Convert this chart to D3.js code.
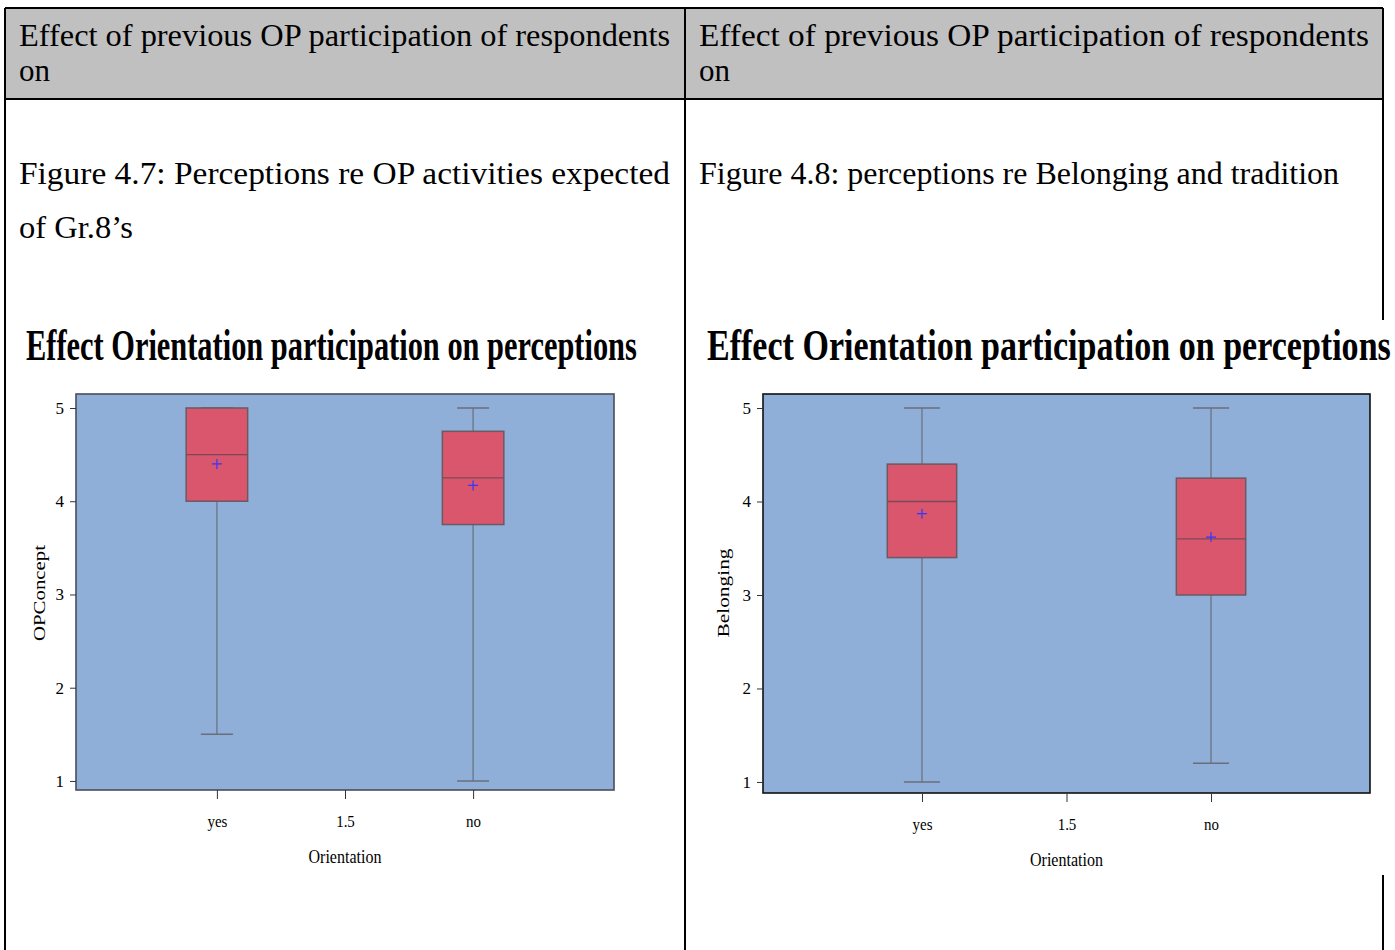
<!DOCTYPE html>
<html>
<head>
<meta charset="utf-8">
<script src="https://cdn.jsdelivr.net/npm/d3@7/dist/d3.min.js"></script>
<style>
  html, body { margin: 0; padding: 0; background: #fff; }
  svg { display: block; }
  text { font-family: "Liberation Serif", "Times New Roman", serif; fill: #000; }
</style>
</head>
<body>
<svg id="page" width="1395" height="950"></svg>
<script>
// Groups and box-plot statistics (min, Q1, median, Q3, max, mean)
const groups = ["yes", "no"];
const xTickValues = [1, 1.5, 2];
const xTickLabels = ["yes", "1.5", "no"];
const yTickValues = [1, 2, 3, 4, 5];

const opMin    = [1.5, 1.0];
const opQ1     = [4.0, 3.75];
const opMedian = [4.5, 4.25];
const opQ3     = [5.0, 4.75];
const opMax    = [5.0, 5.0];
const opMean   = [4.4, 4.17];

const belMin    = [1.0, 1.2];
const belQ1     = [3.4, 3.0];
const belMedian = [4.0, 3.6];
const belQ3     = [4.4, 4.25];
const belMax    = [5.0, 5.0];
const belMean   = [3.87, 3.62];

const headerText = "Effect of previous OP participation of respondents";
const headerText2 = "on";
const caption1a = "Figure 4.7: Perceptions re OP activities expected";
const caption1b = "of Gr.8\u2019s";
const caption2 = "Figure 4.8: perceptions re Belonging and tradition";
const chartTitle = "Effect Orientation participation on perceptions";

const svg = d3.select("#page");

// ---- document table ----
svg.append("rect").attr("x", 5).attr("y", 8).attr("width", 1378).attr("height", 91).attr("fill", "#c0c0c0");

// body text set in a narrow serif: each line is fitted to its measured width
function line(x, y, str, width) {
  return svg.append("text").attr("x", x).attr("y", y).attr("font-size", 31)
    .attr("textLength", width).attr("lengthAdjust", "spacingAndGlyphs").text(str);
}
line(19, 46, headerText, 651);
line(19, 81, headerText2, 31);
line(699, 46, headerText, 670);
line(699, 81, headerText2, 31);
line(19, 184, caption1a, 651);
line(19, 238, caption1b, 114);
line(699, 184, caption2, 640);

const lines = [
  [5, 8, 1383, 8], [5, 99, 1383, 99],
  [5, 8, 5, 950], [685, 8, 685, 950], [1383, 8, 1383, 950]
];
svg.selectAll("line.tbl").data(lines).join("line").attr("class", "tbl")
  .attr("x1", d => d[0]).attr("y1", d => d[1]).attr("x2", d => d[2]).attr("y2", d => d[3])
  .attr("stroke", "#000").attr("stroke-width", 2);

// condensed text: horizontally squeezed to a given width
function condensed(parent, x, y, str, size, width, weight) {
  const t = parent.append("text").attr("font-size", size).attr("font-weight", weight || "normal").text(str);
  const w = t.node().getComputedTextLength();
  t.attr("transform", `translate(${x},${y}) scale(${width / w},1)`);
  return t;
}

// ---- box-plot panels ----
function boxPanel(cfg) {
  // white backdrop of the chart
  svg.append("rect").attr("x", cfg.bgX).attr("y", 320).attr("width", cfg.bgW).attr("height", 555).attr("fill", "#fff");

  const x = d3.scaleLinear().domain([0.45, 2.55]).range([cfg.left, cfg.right]);
  const y = d3.scaleLinear().domain(cfg.yDomain).range([cfg.bottom, cfg.top]);
  const unit = x(2) - x(1);

  condensed(svg, cfg.titleX, 360, chartTitle, 44, cfg.titleW, "bold");

  svg.append("rect").attr("x", cfg.left).attr("y", cfg.top)
    .attr("width", cfg.right - cfg.left).attr("height", cfg.bottom - cfg.top)
    .attr("fill", "#8fafd8");

  const s = cfg.stats;
  const data = groups.map((g, i) => ({
    pos: i + 1, min: s.min[i], q1: s.q1[i], med: s.med[i], q3: s.q3[i], max: s.max[i], mean: s.mean[i]
  }));
  const g = svg.append("g");
  const bw = 0.24 * unit, cw = 0.125 * unit;
  const wc = "#6a6e7c";

  g.selectAll("line.wh").data(data).join("line").attr("class", "wh")
    .attr("x1", d => x(d.pos)).attr("x2", d => x(d.pos))
    .attr("y1", d => y(d.min)).attr("y2", d => y(d.max))
    .attr("stroke", wc).attr("stroke-width", 1.2);
  g.selectAll("line.capLo").data(data).join("line").attr("class", "capLo")
    .attr("x1", d => x(d.pos) - cw / 2).attr("x2", d => x(d.pos) + cw / 2)
    .attr("y1", d => y(d.min)).attr("y2", d => y(d.min))
    .attr("stroke", wc).attr("stroke-width", 1.5);
  g.selectAll("line.capHi").data(data).join("line").attr("class", "capHi")
    .attr("x1", d => x(d.pos) - cw / 2).attr("x2", d => x(d.pos) + cw / 2)
    .attr("y1", d => y(d.max)).attr("y2", d => y(d.max))
    .attr("stroke", wc).attr("stroke-width", 1.5);
  g.selectAll("rect.box").data(data).join("rect").attr("class", "box")
    .attr("x", d => x(d.pos) - bw / 2).attr("width", bw)
    .attr("y", d => y(d.q3)).attr("height", d => y(d.q1) - y(d.q3))
    .attr("fill", "#d9566d").attr("stroke", "#6a5a64").attr("stroke-width", 1.5);
  g.selectAll("line.med").data(data).join("line").attr("class", "med")
    .attr("x1", d => x(d.pos) - bw / 2).attr("x2", d => x(d.pos) + bw / 2)
    .attr("y1", d => y(d.med)).attr("y2", d => y(d.med))
    .attr("stroke", "#7a4a58").attr("stroke-width", 1.3);
  g.selectAll("path.mean").data(data).join("path").attr("class", "mean")
    .attr("d", d => `M${x(d.pos) - 5},${y(d.mean)}h10M${x(d.pos)},${y(d.mean) - 5}v10`)
    .attr("stroke", "#3535ff").attr("stroke-width", 1.2).attr("fill", "none");

  // frame
  svg.append("rect").attr("x", cfg.left).attr("y", cfg.top)
    .attr("width", cfg.right - cfg.left).attr("height", cfg.bottom - cfg.top)
    .attr("fill", "none").attr("stroke", cfg.frame).attr("stroke-width", 1.6);

  // axes
  const yAxis = svg.append("g").attr("transform", `translate(${cfg.left},0)`)
    .call(d3.axisLeft(y).tickValues(yTickValues).tickFormat(d3.format("d")).tickSize(6).tickPadding(6));
  yAxis.select(".domain").remove();
  yAxis.selectAll("text").attr("font-family", "Liberation Serif").attr("font-size", 17).attr("fill", "#222");
  yAxis.selectAll("line").attr("stroke", "#333");

  const xAxis = svg.append("g").attr("transform", `translate(0,${cfg.bottom})`)
    .call(d3.axisBottom(x).tickValues(xTickValues).tickFormat((d, i) => xTickLabels[i]).tickSize(9).tickPadding(16));
  xAxis.select(".domain").remove();
  xAxis.selectAll("text").attr("font-family", "Liberation Serif").attr("font-size", 17).attr("fill", "#222")
    .attr("transform", "scale(0.88,1)");
  xAxis.selectAll("line").attr("stroke", "#333");

  condensed(svg, x(1.5) - 36.5, cfg.bottom + 73, "Orientation", 19, 73).attr("fill", "#222");

  svg.append("text").attr("transform", `translate(${cfg.yLabX},${cfg.yLabY}) rotate(-90)`)
    .attr("text-anchor", "middle").attr("font-size", 17)
    .attr("textLength", cfg.yLabLen).attr("lengthAdjust", "spacingAndGlyphs")
    .attr("fill", "#222").text(cfg.yLabel);
}

boxPanel({
  bgX: 10, bgW: 670, left: 76, right: 614, top: 394, bottom: 790, yDomain: [0.903, 5.15],
  titleX: 26, titleW: 611, frame: "#4a4e5c",
  yLabel: "OPConcept", yLabX: 45, yLabY: 593, yLabLen: 96,
  stats: { min: opMin, q1: opQ1, med: opMedian, q3: opQ3, max: opMax, mean: opMean }
});
boxPanel({
  bgX: 690, bgW: 705, left: 763, right: 1370, top: 394, bottom: 793, yDomain: [0.882, 5.15],
  titleX: 707, titleW: 684, frame: "#111",
  yLabel: "Belonging", yLabX: 729, yLabY: 593, yLabLen: 89,
  stats: { min: belMin, q1: belQ1, med: belMedian, q3: belQ3, max: belMax, mean: belMean }
});
</script>
</body>
</html>
